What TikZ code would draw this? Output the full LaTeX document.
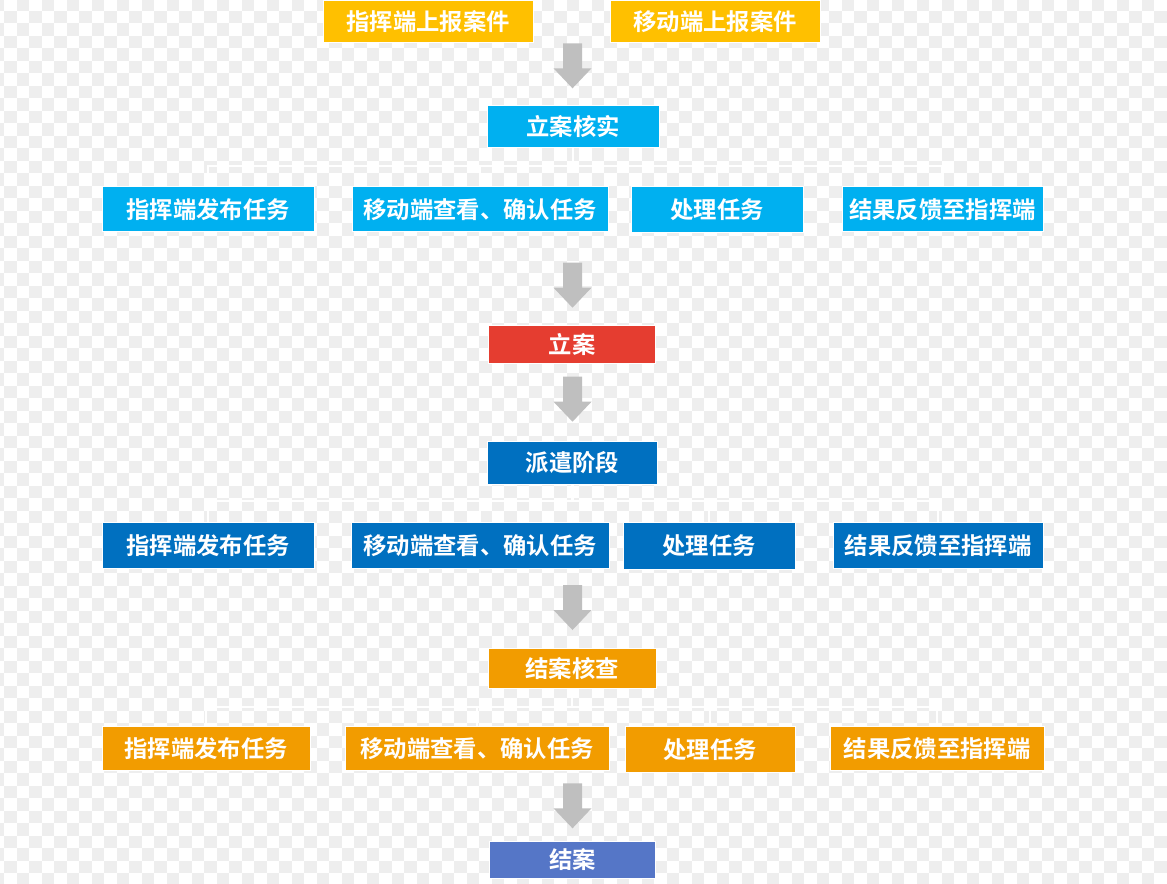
\documentclass[tikz,border=0pt]{standalone}
\usepackage{fontspec}
\setmainfont{Noto Sans CJK SC}[BoldFont={Noto Sans CJK SC Bold}]
\usetikzlibrary{calc}
\definecolor{chk}{HTML}{EEEEEE}
\definecolor{cyellow}{HTML}{FFC000}
\definecolor{ccyan}{HTML}{00B0F0}
\definecolor{cred}{HTML}{E53D30}
\definecolor{cdblue}{HTML}{0070C0}
\definecolor{corange}{HTML}{F29C00}
\definecolor{cend}{HTML}{5576C7}
\definecolor{carrow}{HTML}{BFBFBF}
\tikzset{
  boxbase/.style={draw=white, line width=0.75pt, inner sep=0pt, text=white,
    font=\fontsize{17.5}{20}\selectfont\bfseries},
  yellowbox/.style={boxbase, fill=cyellow},
  cyanbox/.style={boxbase, fill=ccyan},
  redbox/.style={boxbase, fill=cred},
  dbluebox/.style={boxbase, fill=cdblue},
  orangebox/.style={boxbase, fill=corange},
  endbox/.style={boxbase, fill=cend},
  conn/.style={draw=white, line width=1.6pt},
  arrowfill/.style={fill=carrow}
}
\newcommand\bx[7]{\node[#6, minimum width={(#4-#2)*0.75pt}, minimum height={(#5-#3)*0.75pt}] (#1) at ({(#2+#4)/2},{(#3+#5)/2}) {#7};}
\newcommand\darrow[1]{\fill[arrowfill] ($(#1)+(-9.5,0)$) -- ($(#1)+(9.5,0)$) -- ($(#1)+(9.5,25)$) -- ($(#1)+(19,25)$) -- ($(#1)+(0,45)$) -- ($(#1)+(-19,25)$) -- ($(#1)+(-9.5,25)$) -- cycle;}
\newcommand\tree[6]{%
  \coordinate (#6) at (0,#5);
  \draw[conn] (#1.south) -- (#1.south |- #6);
  \draw[conn] (#2.north) -- (#2.north |- #6) -| (#4.north);
  \draw[conn] (#3.north) -- (#3.north |- #6);
}
\begin{document}
\begin{tikzpicture}[x=0.75pt,y=-0.75pt]
\useasboundingbox (0,0) rectangle (1167,883);
\begin{scope}
\clip (0,0) rectangle (1167,883);
\fill[white] (0,0) rectangle (1167,883);
\foreach \i in {0,...,71}{
  \pgfmathtruncatemacro\pp{mod(\i,2)}
  \foreach \k in {0,...,47}{
    \fill[chk] ({-8.3+12.5*\pp+25*\k},{-1.8+12.5*\i}) rectangle ++(12.5,12.5);
  }
}
\end{scope}

% top
\bx{ya}{323}{0}{533}{42.7}{yellowbox}{指挥端上报案件}
\bx{yb}{610}{0}{820}{42.7}{yellowbox}{移动端上报案件}
\coordinate (a1) at (572.5,43.3);
\darrow{a1}
\bx{c0}{487}{105}{659}{147}{cyanbox}{立案核实}
\bx{r1a}{102}{186.7}{314}{231.7}{cyanbox}{指挥端发布任务}
\bx{r1b}{352}{186.7}{608}{231.7}{cyanbox}{移动端查看、确认任务}
\bx{r1c}{631.5}{186.7}{803}{232.7}{cyanbox}{处理任务}
\bx{r1d}{842}{186.7}{1043}{231.7}{cyanbox}{结果反馈至指挥端}
\tree{c0}{r1a}{r1b}{r1d}{166}{h1}
\draw[conn] (r1c.north) -- (r1c.north |- h1);

\coordinate (a2) at (572.5,262.7);
\darrow{a2}
\bx{c1}{488.5}{325}{655.5}{363}{redbox}{立案}
\coordinate (a3) at (572.5,376.7);
\darrow{a3}
\bx{c2}{487.5}{441.7}{657.5}{484}{dbluebox}{派遣阶段}
\bx{r2a}{102}{522.7}{314}{568.3}{dbluebox}{指挥端发布任务}
\bx{r2b}{351}{522.7}{609.5}{568.3}{dbluebox}{移动端查看、确认任务}
\bx{r2c}{623.6}{522.7}{795}{569.3}{dbluebox}{处理任务}
\bx{r2d}{833}{522.7}{1043}{568.3}{dbluebox}{结果反馈至指挥端}
\tree{c2}{r2a}{r2b}{r2d}{500.7}{h2}
\draw[conn] (r2c.north) -- (r2c.north |- h2);

\coordinate (a4) at (572.5,585);
\darrow{a4}
\bx{c3}{488}{648}{656}{688.3}{orangebox}{结案核查}
\bx{r3a}{102}{726.7}{310}{770.7}{orangebox}{指挥端发布任务}
\bx{r3b}{345}{726.7}{609.5}{770.7}{orangebox}{移动端查看、确认任务}
\bx{r3c}{625}{726.7}{795}{772.3}{orangebox}{处理任务}
\bx{r3d}{830.6}{726.7}{1044}{770.7}{orangebox}{结果反馈至指挥端}
\tree{c3}{r3a}{r3b}{r3d}{706.7}{h3}
\draw[conn] (r3c.north) -- (r3c.north |- h3);

\coordinate (a5) at (572.5,783.3);
\darrow{a5}
\bx{c4}{489}{841.7}{655.7}{878.3}{endbox}{结案}
\end{tikzpicture}
\end{document}
